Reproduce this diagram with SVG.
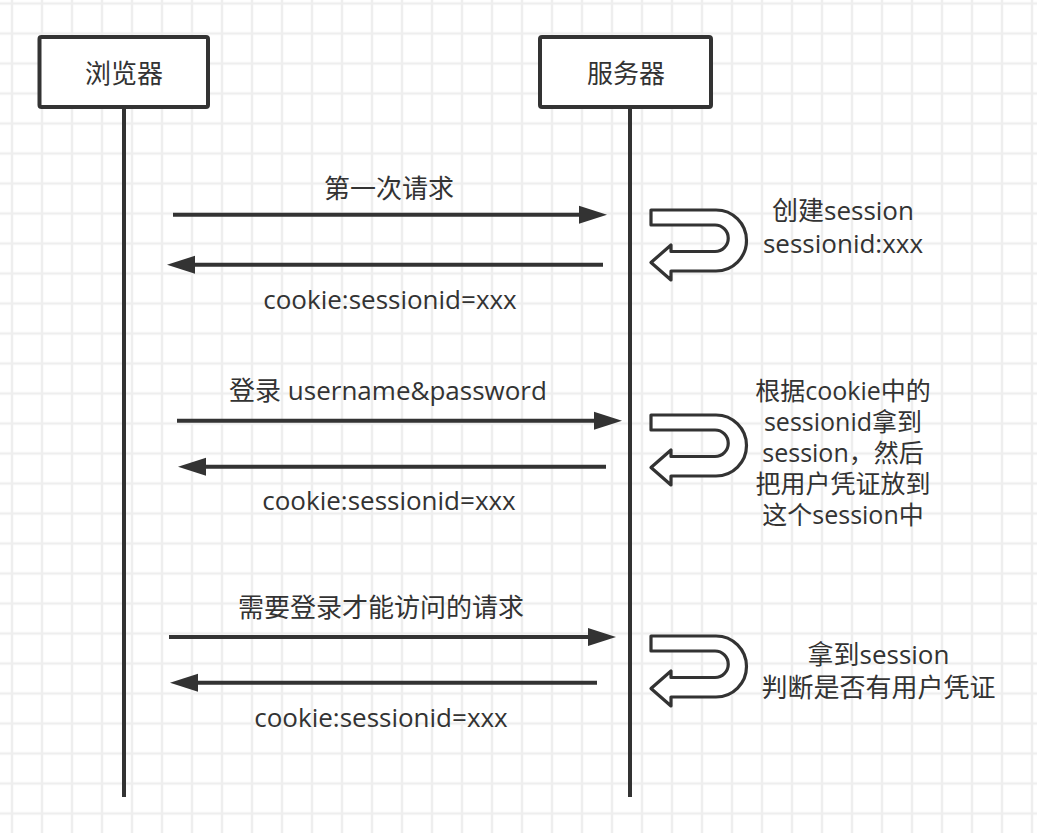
<svg xmlns="http://www.w3.org/2000/svg" width="1037" height="833" viewBox="0 0 1037 833">
<defs>
<pattern id="grid" x="-3" y="-11.5" width="30" height="30" patternUnits="userSpaceOnUse">
<path d="M15,0 V30 M0,15 H30" stroke="#eeeeee" stroke-width="2.5" fill="none"/>
</pattern>
<marker id="ah" markerUnits="userSpaceOnUse" markerWidth="28" markerHeight="18" refX="0" refY="9" orient="auto" overflow="visible">
<path d="M0,0 L28,9 L0,18 Z" fill="#333333"/>
</marker>
<path id="uturn" d="M651,210 H716 A30.5,30.5 0 0 1 716,271 H671 V280 L651,262.5 L671,245 V251.5 H715 A13.25,13.25 0 0 0 715,225 H651 Z"/>
</defs>
<style>
.box{fill:#ffffff;stroke:#333333;stroke-width:4}
.life{stroke:#333333;stroke-width:4;fill:none}
.msg{stroke:#333333;stroke-width:4;fill:none;marker-end:url(#ah)}
.ut{fill:#ffffff;stroke:#333333;stroke-width:3.2;stroke-linejoin:round}
text{font-family:"Open Sans","Noto Sans CJK SC",sans-serif;font-size:26px;fill:#333333;text-anchor:middle}
.tight{font-size:25px}
</style>
<rect width="1037" height="833" fill="#ffffff"/>
<rect width="1037" height="833" fill="url(#grid)"/>
<g id="lifelines">
<line class="life" x1="124" y1="109" x2="124" y2="797"/>
<line class="life" x1="630" y1="109" x2="630" y2="797"/>
</g>
<g id="browser">
<rect class="box" x="39.5" y="37" width="168.5" height="70" rx="2"/>
<text x="124" y="83">浏览器</text>
</g>
<g id="server">
<rect class="box" x="540" y="37" width="171" height="70" rx="2"/>
<text x="626" y="83">服务器</text>
</g>
<g id="connectors">
<line class="msg" x1="173" y1="214.7" x2="579" y2="214.7"/>
<line class="msg" x1="603" y1="264.7" x2="195" y2="264.7"/>
<line class="msg" x1="177" y1="420.7" x2="594" y2="420.7"/>
<line class="msg" x1="606" y1="466.7" x2="206" y2="466.7"/>
<line class="msg" x1="169" y1="637" x2="588" y2="637"/>
<line class="msg" x1="597" y1="682.7" x2="198" y2="682.7"/>
</g>
<g id="labels">
<text x="389" y="198">第一次请求</text>
<text x="390" y="309">cookie:sessionid=xxx</text>
<text x="388" y="400">登录 username&amp;password</text>
<text x="389" y="510">cookie:sessionid=xxx</text>
<text x="381" y="617">需要登录才能访问的请求</text>
<text x="381" y="727">cookie:sessionid=xxx</text>
</g>
<g id="process1">
<use href="#uturn" class="ut"/>
<text x="843" y="220">创建session<tspan x="843" dy="33">sessionid:xxx</tspan></text>
</g>
<g id="process2">
<use href="#uturn" class="ut" transform="translate(0,205)"/>
<text class="tight" x="843" y="400">根据cookie中的<tspan x="843" dy="31">sessionid拿到</tspan><tspan x="843" dy="31">session，然后</tspan><tspan x="843" dy="31">把用户凭证放到</tspan><tspan x="843" dy="31">这个session中</tspan></text>
</g>
<g id="process3">
<use href="#uturn" class="ut" transform="translate(0,426)"/>
<text x="878.5" y="664">拿到session<tspan x="878.5" dy="33">判断是否有用户凭证</tspan></text>
</g>
</svg>
